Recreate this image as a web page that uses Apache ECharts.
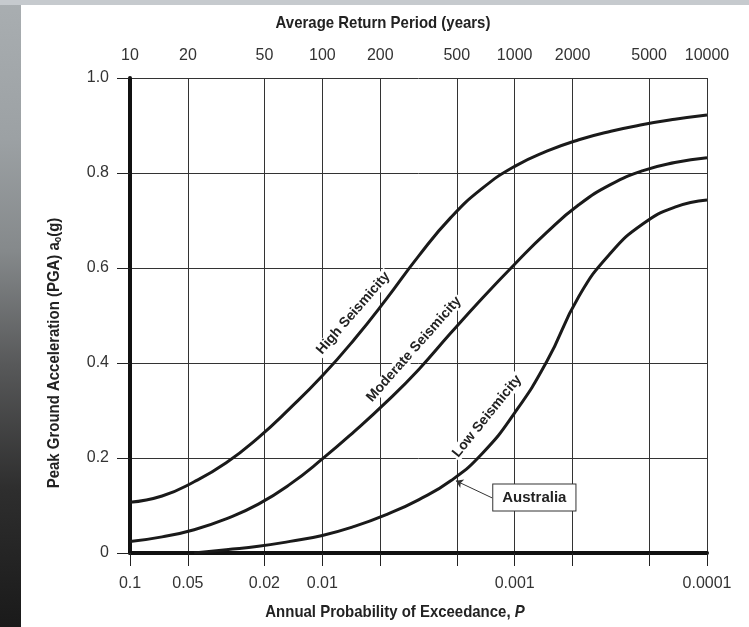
<!DOCTYPE html>
<html>
<head>
<meta charset="utf-8">
<script src="https://cdn.jsdelivr.net/npm/echarts@6/dist/echarts.min.js"></script>
<style>
  html, body { margin: 0; padding: 0; }
  body { width: 749px; height: 627px; position: relative; overflow: hidden;
    background: linear-gradient(to bottom, #a9aeb1 0%, #9ca1a4 22%, #85898b 40%, #58595a 58%, #2e2e2e 78%, #1a1a1a 100%); }
  #band { position: absolute; left: 0; top: 0; width: 749px; height: 5px; background: #c6cace; }
  #paper { position: absolute; left: 21px; top: 5px; width: 728px; height: 622px; background: #ffffff; }
  #chart { position: absolute; left: 0; top: 0; width: 749px; height: 627px; }
</style>
</head>
<body>
<div id="band"></div>
<div id="paper"></div>
<div id="chart"></div>
<script>
// Tick values
const probTicks = [0.1, 0.05, 0.02, 0.01, 0.005, 0.002, 0.001, 0.0005, 0.0002, 0.0001];
const probLabels = [0.1, 0.05, 0.02, 0.01, 0.001, 0.0001];
const returnPeriods = [10, 20, 50, 100, 200, 500, 1000, 2000, 5000, 10000];

// Annual probability of exceedance P at which the curves were read
const probSamples = [0.1, 0.0681, 0.0464, 0.0316, 0.0215, 0.0147, 0.01, 0.00681, 0.00464, 0.00316,
                     0.00215, 0.00147, 0.001, 0.000681, 0.000464, 0.000316, 0.000215, 0.000147, 0.0001];

// PGA (g) at those P values
const highPGA = [0.107, 0.12, 0.15, 0.19, 0.243, 0.305, 0.373, 0.45, 0.535, 0.625,
                 0.706, 0.768, 0.814, 0.846, 0.870, 0.888, 0.902, 0.913, 0.922];
const modPGA  = [0.024, 0.034, 0.049, 0.072, 0.103, 0.145, 0.198, 0.256, 0.318, 0.386,
                 0.463, 0.537, 0.608, 0.675, 0.733, 0.776, 0.805, 0.822, 0.832];
const lowPGA  = [null, null, 0, 0.007, 0.014, 0.0245, 0.037, 0.056, 0.081, 0.112,
                 0.152, 0.21, 0.295, 0.403, 0.54, 0.632, 0.693, 0.728, 0.743];

const curveNames = ['High Seismicity', 'Moderate Seismicity', 'Low Seismicity'];

const FONT = "'Liberation Sans', Arial, Helvetica, sans-serif";
const pairs = (xs, ys) => xs.map((x, i) => [x, ys[i]]).filter(p => p[1] !== null);
const fmtNum = v => String(+(+v).toPrecision(6));

const curveLabel = (name, coord, rot) => ({
  coord: coord, symbol: 'circle', symbolSize: 0,
  label: { show: true, position: 'inside', formatter: name, rotate: rot,
    fontFamily: FONT, fontWeight: 'bold', fontSize: 14, color: '#222',
    backgroundColor: '#ffffff', padding: [0, 2] }
});

const lineSeries = (name, ys, extra) => Object.assign({
  name: name, type: 'line', xAxisIndex: 0, yAxisIndex: 0,
  data: pairs(probSamples, ys), smooth: 0.5, showSymbol: false, symbol: 'none',
  lineStyle: { color: '#1a1a1a', width: 3 }, z: 5, silent: true
}, extra);

const chart = echarts.init(document.getElementById('chart'), null, { renderer: 'canvas' });
chart.setOption({
  animation: false,
  backgroundColor: 'transparent',
  textStyle: { fontFamily: FONT },
  grid: { left: 130, right: 42, top: 78, bottom: 74, containLabel: false },
  xAxis: [
    {
      type: 'log', logBase: 10, min: 0.0001, max: 0.1, inverse: true, position: 'bottom',
      axisLine: { show: true, onZero: false, lineStyle: { color: '#111', width: 4 } },
      axisTick: { show: true, customValues: probTicks, length: 13, lineStyle: { color: '#222', width: 1 } },
      axisLabel: { show: true, customValues: probLabels, margin: 23, fontSize: 16, color: '#333', fontFamily: FONT,
        formatter: fmtNum },
      splitLine: { show: true, lineStyle: { color: '#333', width: 1 } },
      minorTick: { show: false }, minorSplitLine: { show: false }
    },
    {
      type: 'log', logBase: 10, min: 10, max: 10000, position: 'top',
      axisLine: { show: false }, axisTick: { show: false },
      axisLabel: { show: true, customValues: returnPeriods, margin: 14, fontSize: 16, color: '#333', fontFamily: FONT,
        formatter: fmtNum },
      splitLine: { show: false }
    }
  ],
  yAxis: {
    type: 'value', min: 0, max: 1, interval: 0.2,
    axisLine: { show: true, onZero: false, lineStyle: { color: '#111', width: 4 } },
    axisTick: { show: true, length: 13, lineStyle: { color: '#222', width: 1 } },
    axisLabel: { margin: 21, fontSize: 16, color: '#333', fontFamily: FONT,
      formatter: v => v === 0 ? '0' : v.toFixed(1) },
    splitLine: { show: true, lineStyle: { color: '#333', width: 1 } }
  },
  series: [
    lineSeries(curveNames[0], highPGA, {
      markPoint: { silent: true, data: [curveLabel(curveNames[0], [0.0069, 0.505], 49)] }
    }),
    lineSeries(curveNames[1], modPGA, {
      markPoint: { silent: true, data: [curveLabel(curveNames[1], [0.00334, 0.429], 48.5)] }
    }),
    lineSeries(curveNames[2], lowPGA, {
      markPoint: { silent: true, data: [
        curveLabel(curveNames[2], [0.00139, 0.288], 51),
        { coord: [0.00079, 0.117], symbol: 'circle', symbolSize: 0,
          label: { show: true, position: 'inside', formatter: 'Australia', fontFamily: FONT,
            fontWeight: 'bold', fontSize: 15, color: '#222', backgroundColor: '#ffffff',
            borderColor: '#333', borderWidth: 1, padding: [6, 9, 5, 9] } }
      ] },
      markLine: { silent: true, symbol: ['none', 'arrow'], symbolSize: 7,
        label: { show: false },
        lineStyle: { color: '#333', width: 1, type: 'solid' },
        data: [[ { coord: [0.00131, 0.116] }, { coord: [0.00202, 0.152] } ]] }
    })
  ],
  graphic: [
    { type: 'text', x: 383, y: 23, scaleX: 0.88, style: { text: 'Average Return Period (years)', align: 'center', verticalAlign: 'middle',
        font: "bold 17px " + FONT, fill: '#222' } },
    { type: 'text', x: 395, y: 612, scaleX: 0.88, style: {
        text: '{a|Annual Probability of Exceedance, }{b|P}', align: 'center', verticalAlign: 'middle',
        rich: { a: { fontFamily: FONT, fontWeight: 'bold', fontSize: 17, fill: '#222' },
                b: { fontFamily: FONT, fontWeight: 'bold', fontStyle: 'italic', fontSize: 17, fill: '#222' } } } },
    { type: 'text', x: 54, y: 353, rotation: Math.PI / 2, scaleX: 0.88, style: {
        text: '{a|Peak Ground Acceleration (PGA) a}{s|o}{a|(g)}', align: 'center', verticalAlign: 'middle',
        rich: { a: { fontFamily: FONT, fontWeight: 'bold', fontSize: 17, lineHeight: 19, fill: '#222' },
                s: { fontFamily: FONT, fontWeight: 'bold', fontSize: 10, lineHeight: 8, verticalAlign: 'bottom', fill: '#222' } } } }
  ]
});
</script>
</body>
</html>
